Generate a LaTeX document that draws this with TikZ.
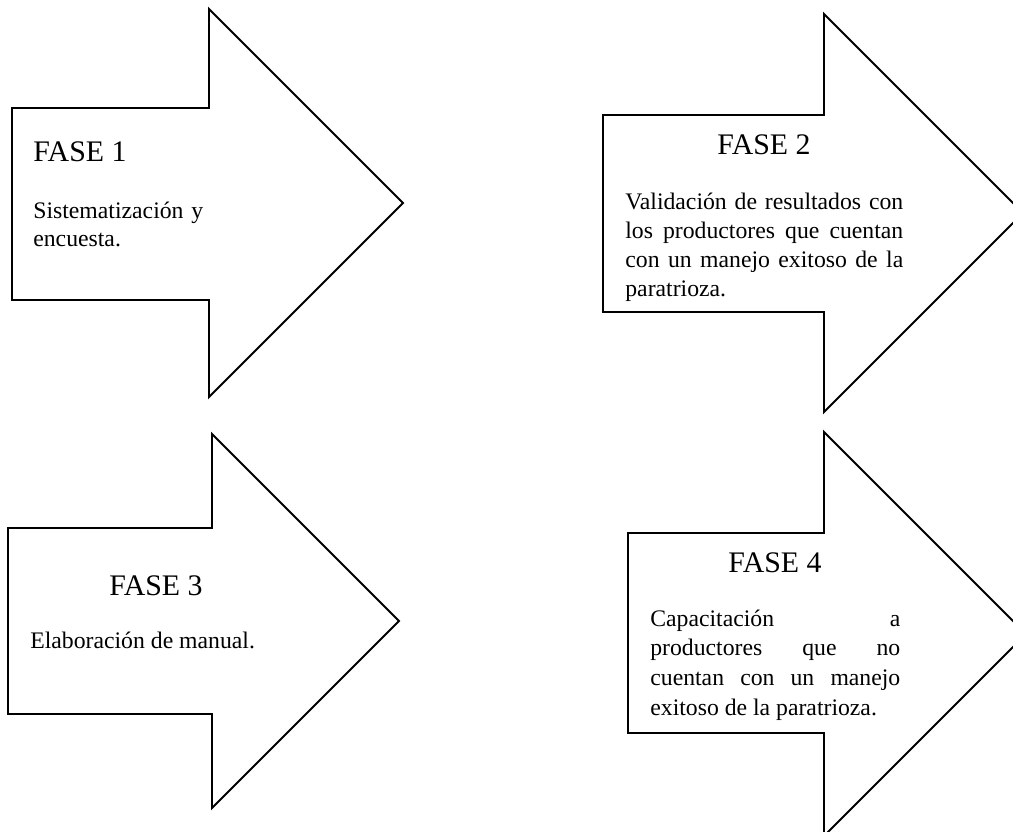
\documentclass[tikz,border=0pt]{standalone}
\usepackage{fontspec}
\setmainfont{Liberation Serif}
\usetikzlibrary{positioning}

\begin{document}
\begin{tikzpicture}[
  x=0.02cm, y=-0.02cm,
  fasearrow/.style={draw=black, fill=white, line width=1.1pt, line join=miter},
  fasetitle/.style={inner sep=0pt, font=\fontsize{17}{20}\selectfont},
  fasebody/.style={inner sep=0pt, font=\fontsize{13.5}{16.4}\selectfont}
]
  \useasboundingbox (0,0) rectangle (1013,831);
  \clip (0,0) rectangle (1013,831);

  % Arrows
  \draw[fasearrow] (12,108) -- (209,108) -- (209,9) -- (403,203) -- (209,397) -- (209,300) -- (12,300) -- cycle;
  \draw[fasearrow] (603,115) -- (824,115) -- (824,14) -- (1023,213) -- (824,412) -- (824,312) -- (603,312) -- cycle;
  \draw[fasearrow] (8,528) -- (212,528) -- (212,434) -- (399,621) -- (212,808) -- (212,714) -- (8,714) -- cycle;
  \draw[fasearrow] (628,533) -- (824,533) -- (824,432) -- (1026,634) -- (824,836) -- (824,733) -- (628,733) -- cycle;

  % Fase 1
  \node[fasetitle, anchor=base west] (f1) at (33,162) {FASE 1};
  \node[fasebody, anchor=base west, text width=4cm, align=left] (f1txt) at (33,218) {Sistematización y\\encuesta.};

  % Fase 2
  \node[fasetitle, anchor=base] (f2) at (764,154) {FASE 2};
  \node[fasebody, anchor=base west, text width=5.56cm, align=justify] (f2txt) at (625,210)
    {Validación de resultados con\linebreak los productores que cuentan\linebreak con un manejo exitoso de la\linebreak paratrioza.};

  % Fase 3
  \node[fasetitle, anchor=base] (f3) at (156,595) {FASE 3};
  \node[fasebody, anchor=base west] (f3txt) at (30,648) {Elaboración de manual.};

  % Fase 4
  \node[fasetitle, anchor=base] (f4) at (775,572) {FASE 4};
  \node[fasebody, anchor=base west, text width=5cm, align=justify,
        font=\fontsize{13.5}{16.9}\selectfont] (f4txt) at (650,626)
    {Capacitación a\linebreak productores que no\linebreak cuentan con un manejo\linebreak exitoso de la paratrioza.};
\end{tikzpicture}
\end{document}
